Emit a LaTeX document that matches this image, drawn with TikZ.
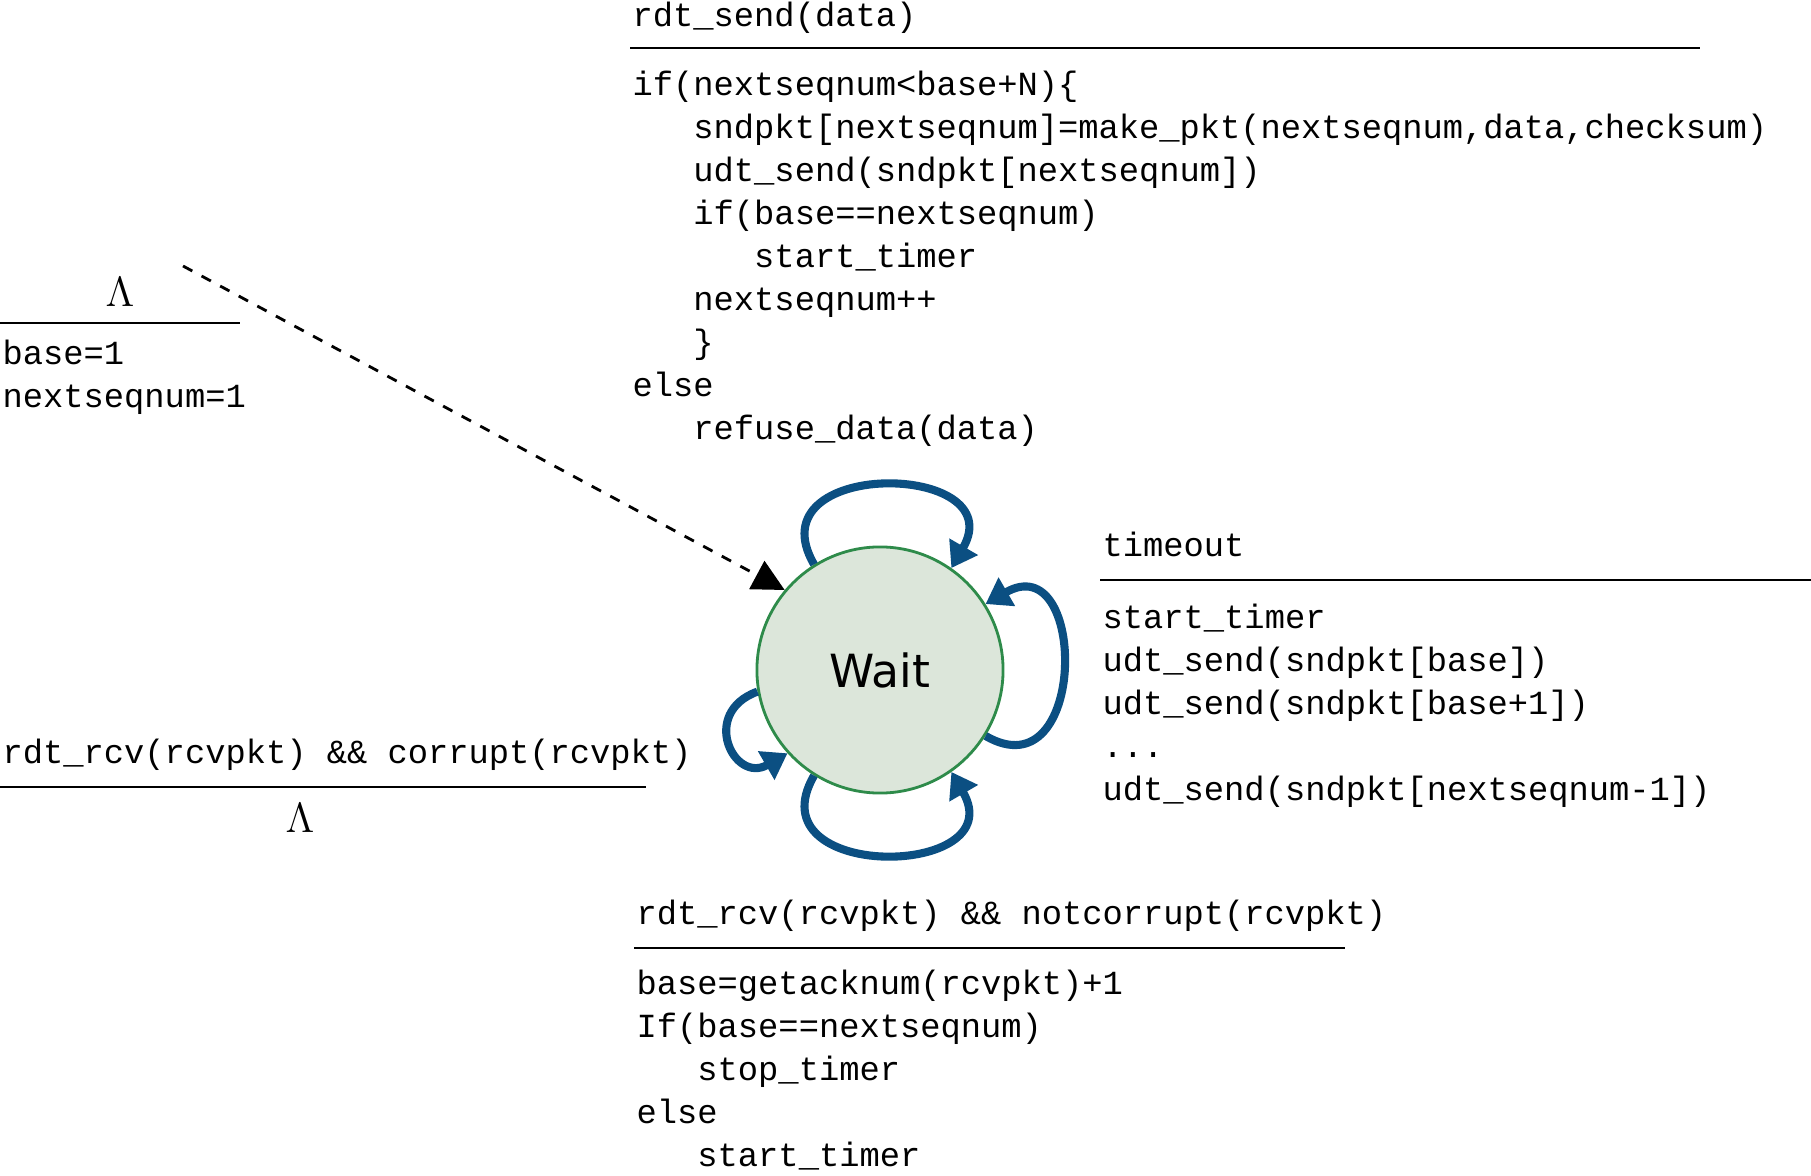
\documentclass[tikz,border=0pt]{standalone}
\usepackage{fontspec}
\setmonofont{Liberation Mono}
\setsansfont{DejaVu Sans}
\usetikzlibrary{arrows.meta, positioning}
\definecolor{loopblue}{HTML}{0B4F82}
\definecolor{waitfill}{HTML}{DCE6DA}
\definecolor{waitdraw}{HTML}{2E8B4A}

\begin{document}
\begin{tikzpicture}[x=0.01cm, y=-0.01cm,
        code/.style={anchor=north west, inner sep=0pt, align=left, font=\fontsize{9.6}{12.24}\selectfont\ttfamily},
        state/.style={circle, draw=waitdraw, fill=waitfill, thick, minimum size=2.46cm, font=\sffamily\fontsize{13}{15}\selectfont},
        loop/.style={-{Triangle[length=7pt, width=9pt]}, line width=2.3pt, draw=loopblue, looseness=2.3},
        rule/.style={thick}
    ]
        \useasboundingbox (0,0) rectangle (1811,1176);

        \node[state] (wait) at (880,670) {Wait};

        % top: rdt_send
        \node[code] (send) at (632,1) {rdt\_send(data)};
        \draw[rule] (630,48) -- (1700,48);
        \node[code] (sendact) at (632,70) {if(nextseqnum<base+N)\{\\
\hspace*{1.8em}sndpkt[nextseqnum]=make\_pkt(nextseqnum,data,checksum)\\
\hspace*{1.8em}udt\_send(sndpkt[nextseqnum])\\
\hspace*{1.8em}if(base==nextseqnum)\\
\hspace*{3.6em}start\_timer\\
\hspace*{1.8em}nextseqnum++\\
\hspace*{1.8em}\}\\
else\\
\hspace*{1.8em}refuse\_data(data)};

        % init
        \node[font=\fontsize{12}{14}\selectfont] (lam1) at (120,292) {$\Lambda$};
        \draw[rule] (0,323) -- (240,323);
        \node[code] (init) at (2,339) {base=1\\nextseqnum=1};
        \coordinate (start) at (183,266);
        \draw[dashed, thick, -{Triangle[length=9pt, width=9pt]}] (start) -- (wait.140);

        % timeout
        \node[code] (tmo) at (1102,531) {timeout};
        \draw[rule] (1100,580) -- (1811,580);
        \node[code] (tmoact) at (1102,603) {start\_timer\\
udt\_send(sndpkt[base])\\
udt\_send(sndpkt[base+1])\\
...\\
udt\_send(sndpkt[nextseqnum-1])};

        % corrupt
        \node[code] (corr) at (2,738) {rdt\_rcv(rcvpkt) \&\& corrupt(rcvpkt)};
        \draw[rule] (0,787) -- (646,787);
        \node[font=\fontsize{12}{14}\selectfont] (lam2) at (300,818) {$\Lambda$};

        % ack
        \node[code] (ack) at (636,899) {rdt\_rcv(rcvpkt) \&\& notcorrupt(rcvpkt)};
        \draw[rule] (634,948) -- (1345,948);
        \node[code] (ackact) at (636,969) {base=getacknum(rcvpkt)+1\\
If(base==nextseqnum)\\
\hspace*{1.8em}stop\_timer\\
else\\
\hspace*{1.8em}start\_timer};

        % self loops
        \draw[loop] (wait.122) to[out=120, in=60] (wait.55);
        \draw[loop] (wait.-32) to[out=-30, in=30] (wait.32);
        \draw[loop] (wait.-122) to[out=-120, in=-60] (wait.-55);
        \draw[loop] (wait.-170) to[out=-160, in=-150] (wait.-138);
\end{tikzpicture}
\end{document}
